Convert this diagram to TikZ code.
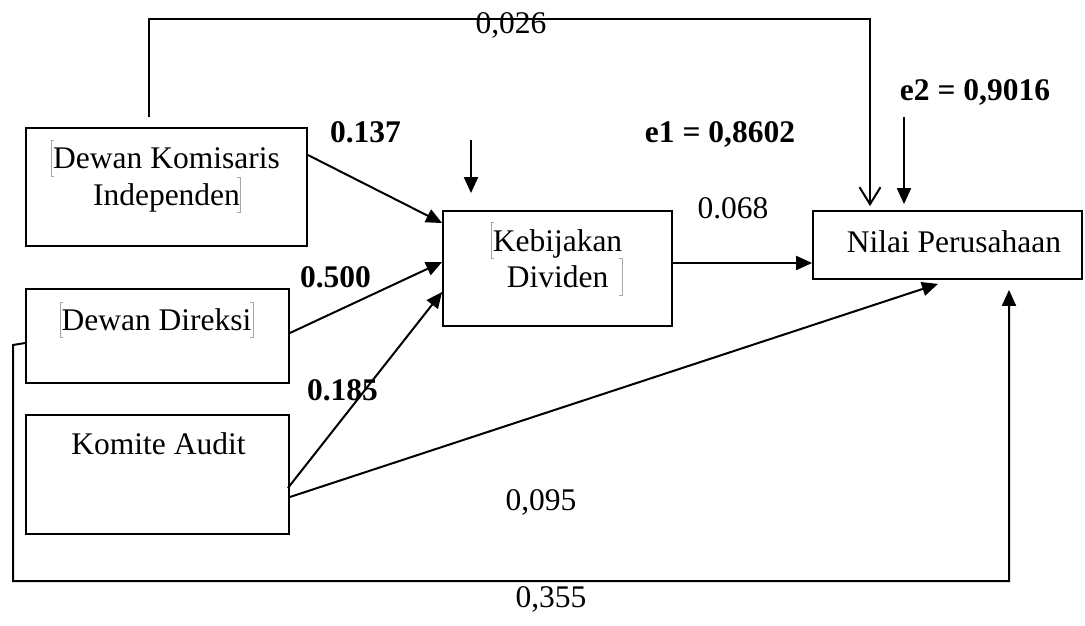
\documentclass[tikz,border=0pt]{standalone}
\usepackage{fontspec}
\setmainfont{Liberation Serif}
\usetikzlibrary{arrows.meta,calc}
\tikzset{
  box/.style={draw, line width=1.8pt, inner sep=0pt, fill=white},
  txt/.style={anchor=base, inner sep=0pt, font=\fontsize{31.5}{37}\selectfont},
  btxt/.style={anchor=base, inner sep=0pt, font=\fontsize{31.5}{37}\selectfont\bfseries},
  arr/.style={line width=2pt, -{Triangle[length=16pt,width=14pt]}},
  openarr/.style={line width=2pt, -{Straight Barb[length=17pt,width=21pt,line width=2pt]}},
  bmk/.style={draw=gray!70, line width=0.9pt}
}
\begin{document}
\begin{tikzpicture}[x=1pt,y=-1pt]
\useasboundingbox (0,0) rectangle (1085,625);

% boxes
\node[box, minimum width=281pt, minimum height=118pt] (dki) at (166.5,187) {};
\node[box, minimum width=263pt, minimum height=94pt] (dd) at (157.5,336) {};
\node[box, minimum width=263pt, minimum height=119pt] (ka) at (157.5,474.5) {};
\node[box, minimum width=229pt, minimum height=115pt] (keb) at (557.5,268.5) {};
\node[box, minimum width=269pt, minimum height=68pt] (nilai) at (947.5,245) {};

% box texts
\node[txt] (t1) at (166.5,168) {Dewan Komisaris};
\node[txt] (t2) at (166.5,205) {Independen};
\node[txt] (t3) at (156.5,330) {Dewan Direksi};
\node[txt] (t4) at (158.5,454) {Komite Audit};
\node[txt] (t5) at (557.5,251) {Kebijakan};
\node[txt] (t6) at (557.5,287) {Dividen};
\node[txt] (t7) at (954,252) {Nilai Perusahaan};

% grey bookmark brackets
\draw[bmk] (54,140) -- (51,140) -- (51,176) -- (54,176);
\draw[bmk] (237,177) -- (240,177) -- (240,212) -- (237,212);
\draw[bmk] (63,302) -- (60,302) -- (60,337) -- (63,337);
\draw[bmk] (250,302) -- (253,302) -- (253,337) -- (250,337);
\draw[bmk] (494,222) -- (491,222) -- (491,258) -- (494,258);
\draw[bmk] (619,258) -- (622,258) -- (622,295) -- (619,295);

% connectors
\coordinate (t0) at (149,117);
\draw[openarr] (t0) -- (149,19) -| ($(nilai.north -| 870,0)+(0,-4)$);
\draw[arr] (dki.east |- 0,155) -- (keb.west |- 0,223);
\draw[arr] (dd.east |- 0,333) -- (keb.west |- 0,262);
\draw[arr] ($(ka.east |- 0,488)+(-2,0)$) -- (keb.west |- 0,292);
\draw[arr] (ka.east |- 0,497) -- ($(nilai.south -| 938,0)+(0,4)$);
\draw[arr] (keb.east |- 0,263) -- (nilai.west |- 0,263);
\draw[arr] (dd.west |- 0,343) -- (13,345) -- (13,581) -| ($(nilai.south -| 1009,0)+(0,10)$);
\coordinate (e1s) at (471,140);
\draw[arr] (e1s) -- ($(keb.north -| 471,0)+(0,-17)$);
\coordinate (e2s) at (904,117);
\draw[arr] (e2s) -- ($(nilai.north -| 904,0)+(0,-6)$);

% labels
\node[txt] (l026) at (511,33) {0,026};
\node[btxt] (l137) at (365.5,142) {0.137};
\node[btxt] (l500) at (335.5,287) {0.500};
\node[btxt] (l185) at (342.5,400) {0.185};
\node[btxt] (le1) at (720,142) {e1 = 0,8602};
\node[btxt] (le2) at (975,100) {e2 = 0,9016};
\node[txt] (l068) at (733,218) {0.068};
\node[txt] (l095) at (541,510) {0,095};
\node[txt] (l355) at (551,607) {0,355};
\end{tikzpicture}
\end{document}
